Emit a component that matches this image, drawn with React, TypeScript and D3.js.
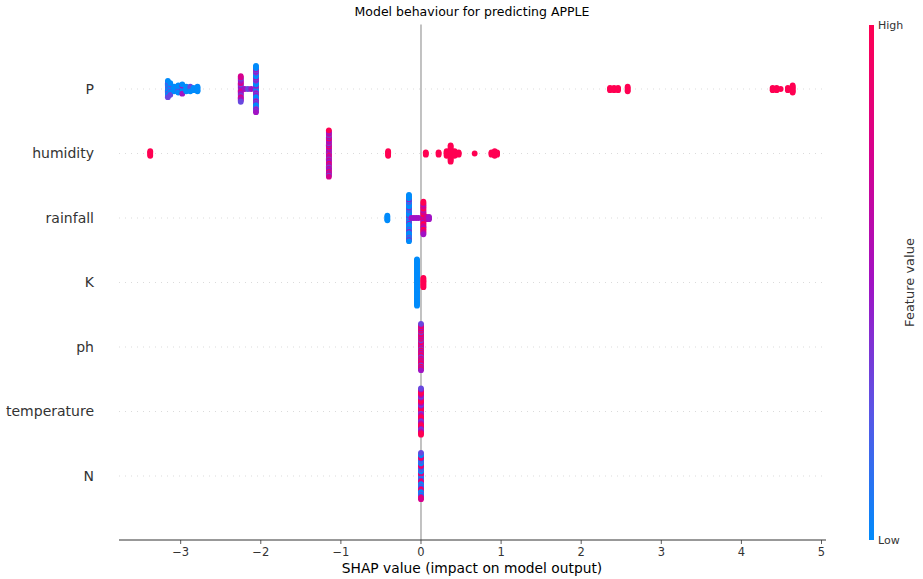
import React from "react";
import * as d3 from "d3";

// ---------- data ----------
const features = ["P", "humidity", "rainfall", "K", "ph", "temperature", "N"];

// clusters: [shap value, number of points, feature-value pattern]
// pattern letters: b = low (blue), c = low-mid, p = mid (purple), m = mid-high, r = high (red)
const pClusters: [number, number, string][] = [
  [-3.16, 15, "bbc"], [-3.13, 11, "bcb"], [-3.08, 5, "b"], [-3.03, 7, "bcb"],
  [-2.98, 9, "bbp"], [-2.93, 5, "b"], [-2.88, 5, "cbb"], [-2.84, 3, "b"], [-2.79, 5, "b"],
  [-2.25, 23, "pmcpm"], [-2.2, 1, "p"], [-2.16, 1, "c"], [-2.12, 1, "p"],
  [-2.06, 41, "bpbcbpc"],
  [2.36, 3, "r"], [2.41, 3, "r"], [2.46, 3, "r"], [2.58, 5, "r"],
  [4.39, 3, "r"], [4.44, 3, "r"], [4.49, 1, "r"], [4.58, 3, "r"], [4.64, 7, "r"],
];
const humidityClusters: [number, number, string][] = [
  [-3.38, 5, "r"], [-1.15, 41, "pmpcrmp"], [-0.41, 5, "r"],
  [0.06, 3, "r"], [0.22, 3, "r"], [0.32, 5, "r"], [0.37, 15, "r"], [0.42, 5, "r"],
  [0.47, 3, "r"], [0.67, 1, "r"], [0.88, 3, "r"], [0.92, 5, "r"], [0.95, 3, "r"],
];
const rainfallClusters: [number, number, string][] = [
  [-0.42, 5, "b"], [-0.15, 41, "bbbpbbc"], [-0.12, 1, "p"], [-0.09, 1, "p"],
  [-0.06, 1, "p"], [-0.03, 1, "p"], [0.03, 29, "rmrpm"], [0.07, 3, "m"], [0.1, 3, "p"],
];
const kClusters: [number, number, string][] = [
  [-0.05, 41, "b"], [0.03, 9, "r"],
];
const phClusters: [number, number, string][] = [[0, 41, "rpmrcpr"]];
const temperatureClusters: [number, number, string][] = [[0, 41, "rmprcrp"]];
const nClusters: [number, number, string][] = [[0, 41, "bpbrcmb"]];

const allClusters = [
  pClusters, humidityClusters, rainfallClusters, kClusters,
  phClusters, temperatureClusters, nClusters,
];

const xTicks = [-3, -2, -1, 0, 1, 2, 3, 4, 5];
const title = "Model behaviour for predicting APPLE";
const xLabel = "SHAP value (impact on model output)";
const colorbarLabel = "Feature value";

// colour map stops (low -> high)
const cmapStops = ["#008bfb", "#5a55e6", "#a112c4", "#d6008e", "#ff0052"];

const patternValue: Record<string, number> = { b: 0, c: 0.3, p: 0.5, m: 0.75, r: 1 };

// ---------- chart ----------
const W = 923;
const H = 579;
const font = "DejaVu Sans, sans-serif";

export default function App() {
  const x = d3.scaleLinear().domain([-3.77, 5.056]).range([119, 826]);
  const y = d3.scaleLinear().domain([-1, features.length]).range([540.5, 24.5]);
  const color = d3.piecewise(d3.interpolateRgb, cmapStops);
  const rowH = Math.abs(y(0) - y(1));
  const halfSpread = 0.9 * 0.4 * rowH;

  const dots: { cx: number; cy: number; fill: string; key: string }[] = [];
  features.forEach((f, i) => {
    const pos = features.length - 1 - i;
    const clusters = allClusters[i];
    const maxCount = d3.max(clusters, (c) => c[1]) ?? 1;
    const maxLayer = Math.ceil((maxCount - 1) / 2);
    const spacing = maxLayer > 0 ? halfSpread / maxLayer : 0;
    clusters.forEach(([v, n, pat], ci) => {
      for (let k = 0; k < n; k++) {
        const layer = Math.ceil(k / 2);
        const sign = k % 2 ? -1 : 1;
        dots.push({
          cx: x(v),
          cy: y(pos) + sign * layer * spacing,
          fill: color(patternValue[pat[k % pat.length]]),
          key: `${f}-${ci}-${k}`,
        });
      }
    });
  });

  const cbTop = 25;
  const cbBottom = 540;
  const stops = d3.range(0, 1.0001, 0.05);

  return (
    <svg
      width={W}
      height={H}
      style={{ position: "absolute", left: 0, top: 0, background: "#fff" }}
      fontFamily={font}
    >
      <defs>
        <linearGradient id="cb" x1="0" y1="1" x2="0" y2="0">
          {stops.map((s) => (
            <stop key={s} offset={s} stopColor={color(s)} />
          ))}
        </linearGradient>
      </defs>

      {/* title */}
      <text x={472} y={16} textAnchor="middle" fontSize={12.5} fill="#000">
        {title}
      </text>

      {/* gridlines */}
      {features.map((f, i) => {
        const pos = features.length - 1 - i;
        return (
          <line
            key={f}
            x1={119}
            x2={826}
            y1={y(pos)}
            y2={y(pos)}
            stroke="#cccccc"
            strokeWidth={0.7}
            strokeDasharray="1,5"
          />
        );
      })}

      {/* zero line */}
      <line x1={x(0)} x2={x(0)} y1={y(features.length)} y2={540} stroke="#999999" strokeWidth={1.2} />

      {/* dots */}
      {dots.map((d) => (
        <circle key={d.key} cx={d.cx} cy={d.cy} r={2.9} fill={d.fill} />
      ))}

      {/* feature labels */}
      {features.map((f, i) => {
        const pos = features.length - 1 - i;
        return (
          <text key={f} x={94} y={y(pos)} dy="0.35em" textAnchor="end" fontSize={14} fill="#333">
            {f}
          </text>
        );
      })}

      {/* x axis */}
      <line x1={119} x2={826} y1={540} y2={540} stroke="#333" strokeWidth={1} />
      {xTicks.map((t) => (
        <g key={t} transform={`translate(${x(t)},540)`}>
          <line y1={0} y2={4} stroke="#333" strokeWidth={0.8} />
          <text y={16} textAnchor="middle" fontSize={11.5} fill="#333">
            {t < 0 ? `\u2212${Math.abs(t)}` : t}
          </text>
        </g>
      ))}
      <text x={472} y={573} textAnchor="middle" fontSize={13.8} fill="#000">
        {xLabel}
      </text>

      {/* colorbar */}
      <rect x={869} y={cbTop} width={5} height={cbBottom - cbTop} fill="url(#cb)" />
      <text x={878} y={cbTop} dy="0.35em" fontSize={11} fill="#333">High</text>
      <text x={878} y={cbBottom} dy="0.35em" fontSize={11} fill="#333">Low</text>
      <text
        transform={`translate(914,${(cbTop + cbBottom) / 2}) rotate(-90)`}
        textAnchor="middle"
        fontSize={13}
        fill="#333"
      >
        {colorbarLabel}
      </text>
    </svg>
  );
}
